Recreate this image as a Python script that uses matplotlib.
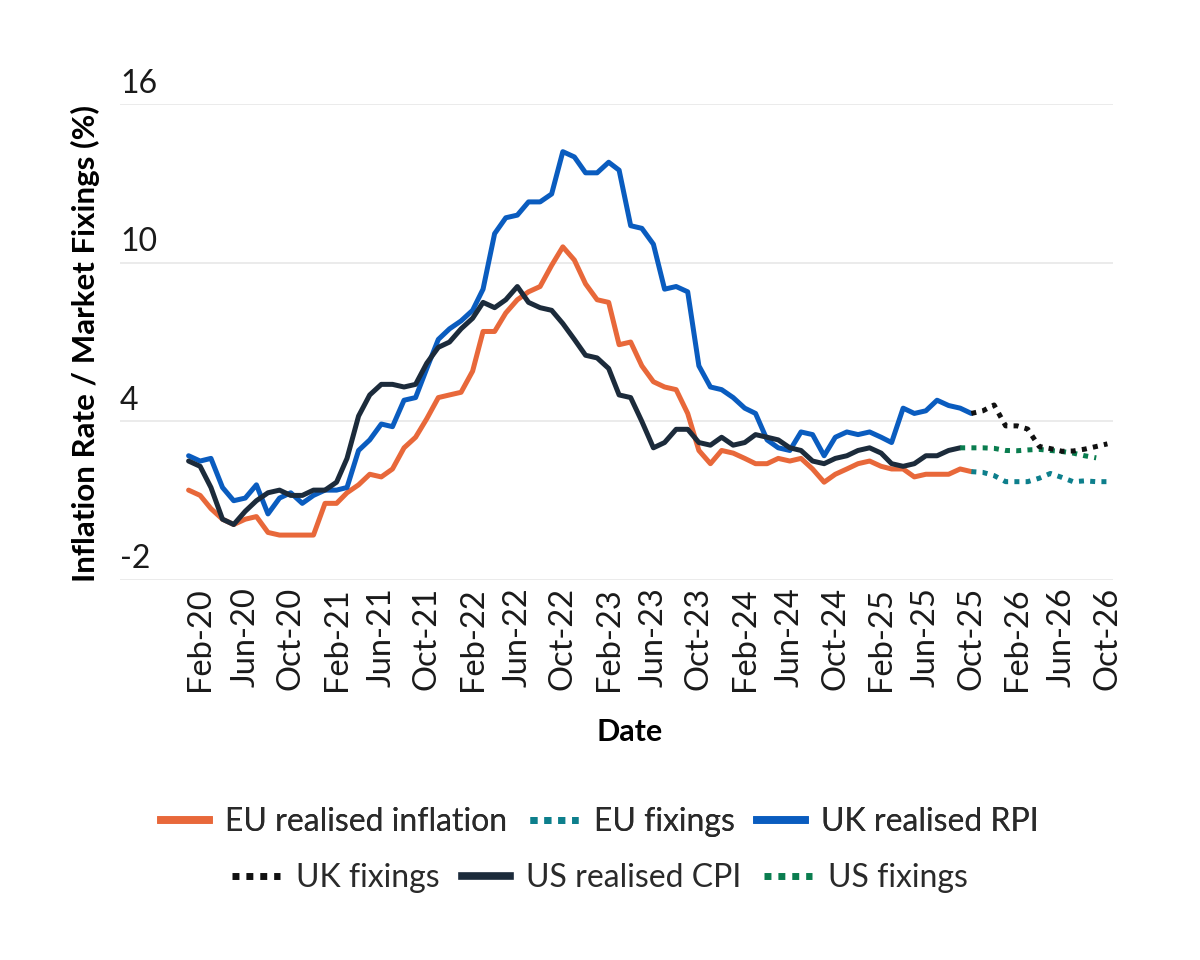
"""Realised inflation vs market fixings for EU, UK and US, monthly, Jan-20 to Oct-26."""
import matplotlib
matplotlib.use("Agg")
import matplotlib.pyplot as plt
import matplotlib.dates as mdates
import matplotlib.transforms as mtransforms
from matplotlib.lines import Line2D
import pandas as pd

# realised series, monthly from Jan-20
eu_realised = [
    1.4, 1.2, 0.7, 0.3, 0.1, 0.3, 0.4, -0.2, -0.3, -0.3, -0.3, -0.3,
    0.9, 0.9, 1.3, 1.6, 2.0, 1.9, 2.2, 3.0, 3.4, 4.1, 4.9, 5.0,
    5.1, 5.9, 7.4, 7.4, 8.1, 8.6, 8.9, 9.1, 9.9, 10.6, 10.1, 9.2,
    8.6, 8.5, 6.9, 7.0, 6.1, 5.5, 5.3, 5.2, 4.3, 2.9, 2.4, 2.9,
    2.8, 2.6, 2.4, 2.4, 2.6, 2.5, 2.6, 2.2, 1.7, 2.0, 2.2, 2.4,
    2.5, 2.3, 2.2, 2.2, 1.9, 2.0, 2.0, 2.0, 2.2, 2.1,
]
uk_rpi = [
    2.7, 2.5, 2.6, 1.5, 1.0, 1.1, 1.6, 0.5, 1.1, 1.3, 0.9, 1.2,
    1.4, 1.4, 1.5, 2.9, 3.3, 3.9, 3.8, 4.8, 4.9, 6.0, 7.1, 7.5,
    7.8, 8.2, 9.0, 11.1, 11.7, 11.8, 12.3, 12.3, 12.6, 14.2, 14.0, 13.4,
    13.4, 13.8, 13.5, 11.4, 11.3, 10.7, 9.0, 9.1, 8.9, 6.1, 5.3, 5.2,
    4.9, 4.5, 4.3, 3.3, 3.0, 2.9, 3.6, 3.5, 2.7, 3.4, 3.6, 3.5,
    3.6, 3.4, 3.2, 4.5, 4.3, 4.4, 4.8, 4.6, 4.5, 4.3,
]
us_cpi = [
    2.5, 2.3, 1.5, 0.3, 0.1, 0.6, 1.0, 1.3, 1.4, 1.2, 1.2, 1.4,
    1.4, 1.7, 2.6, 4.2, 5.0, 5.4, 5.4, 5.3, 5.4, 6.2, 6.8, 7.0,
    7.5, 7.9, 8.5, 8.3, 8.6, 9.1, 8.5, 8.3, 8.2, 7.7, 7.1, 6.5,
    6.4, 6.0, 5.0, 4.9, 4.0, 3.0, 3.2, 3.7, 3.7, 3.2, 3.1, 3.4,
    3.1, 3.2, 3.5, 3.4, 3.3, 3.0, 2.9, 2.5, 2.4, 2.6, 2.7, 2.9,
    3.0, 2.8, 2.4, 2.3, 2.4, 2.7, 2.7, 2.9, 3.0,
]

# market fixings
eu_fix = [2.1, 2.07, 1.95, 1.72, 1.72, 1.72, 1.85, 2.03, 1.88, 1.72, 1.75, 1.72, 1.72]  # Oct-25 ->
uk_fix = [4.3, 4.4, 4.62, 3.83, 3.83, 3.71, 3.05, 2.97, 2.87, 2.88, 2.95, 3.05, 3.15]   # Oct-25 ->
us_fix = [3.0, 3.0, 3.0, 2.98, 2.9, 2.89, 2.92, 2.94, 2.9, 2.86, 2.8, 2.7, 2.62]       # Sep-25 ->

y_ticks = [-2, 4, 10, 16]

C_EU = "#E8683A"
C_EU_FIX = "#0D7F8C"
C_UK = "#0A5CBF"
C_UK_FIX = "#111111"
C_US = "#1C2B3B"
C_US_FIX = "#0A7D4F"

FONT = "Lato"
DOT = (0, (1, 1.25))


def months(start, n):
    return pd.date_range(start, periods=n, freq="MS")


def main():
    fig = plt.figure(figsize=(12, 9.6), dpi=100)
    ax = fig.add_axes([0.1, 0.3958, 0.8275, 0.4958])

    lw = 3.6
    kw = dict(lw=lw, solid_joinstyle="round", solid_capstyle="round")
    ax.plot(months("2020-01-01", len(eu_realised)), eu_realised, color=C_EU, **kw)
    ax.plot(months("2020-01-01", len(uk_rpi)), uk_rpi, color=C_UK, **kw)
    ax.plot(months("2020-01-01", len(us_cpi)), us_cpi, color=C_US, **kw)

    fkw = dict(lw=lw, ls=DOT, dash_capstyle="butt")
    ax.plot(months("2025-09-01", len(us_fix)), us_fix, color=C_US_FIX, **fkw)
    ax.plot(months("2025-10-01", len(eu_fix)), eu_fix, color=C_EU_FIX, **fkw)
    ax.plot(months("2025-10-01", len(uk_fix)), uk_fix, color=C_UK_FIX, **fkw)

    ax.set_xlim(pd.Timestamp("2019-07-01"), pd.Timestamp("2026-10-16"))
    ax.set_ylim(-2, 16)

    # x ticks every 4 months from Feb-20
    xt = pd.date_range("2020-02-01", "2026-10-01", freq="4MS")
    ax.set_xticks(xt)
    ax.xaxis.set_major_formatter(mdates.DateFormatter("%b-%y"))
    ax.tick_params(axis="x", length=0, pad=5, labelrotation=90, labelsize=23.5)
    for lab in ax.get_xticklabels():
        lab.set_fontfamily(FONT)
        lab.set_color("#1a1a1a")

    # y ticks: gridlines, labels sitting on top of them at the left edge
    ax.set_yticks(y_ticks)
    ax.tick_params(axis="y", length=0, labelleft=False)
    ax.grid(axis="y", color="#e8e8e8", lw=1.2)
    ax.set_axisbelow(True)
    trans = mtransforms.blended_transform_factory(ax.transAxes, ax.transData)
    for v in y_ticks:
        ax.text(0.0, v, str(v), transform=trans + mtransforms.ScaledTranslation(0, 4 / 72, fig.dpi_scale_trans),
                ha="left", va="bottom", fontsize=23, fontfamily=FONT, color="#1a1a1a")

    for s in ax.spines.values():
        s.set_visible(False)

    ax.set_ylabel("Inflation Rate / Market Fixings (%)", fontsize=22.5, fontfamily=FONT,
                  fontweight="bold")
    ax.yaxis.set_label_coords(-0.02, 0.497)
    fig.text(0.525, 0.238, "Date", ha="center", va="center", fontsize=22,
             fontfamily=FONT, fontweight="bold")

    def h(color, dotted=False):
        if dotted:
            return Line2D([], [], color=color, lw=5, ls=(0, (1, 1)), dash_capstyle="butt")
        return Line2D([], [], color=color, lw=5.5)

    lkw = dict(frameon=False, ncol=3, handlelength=1.5, handletextpad=0.5, columnspacing=0.7,
               prop={"family": FONT, "size": 23})
    leg1 = fig.legend([h(C_EU), h(C_EU_FIX, True), h(C_UK)],
                      ["EU realised inflation", "EU fixings", "UK realised RPI"],
                      loc="center", bbox_to_anchor=(0.5, 0.144), **lkw)
    fig.add_artist(leg1)
    fig.legend([h(C_UK_FIX, True), h(C_US), h(C_US_FIX, True)],
               ["UK fixings", "US realised CPI", "US fixings"],
               loc="center", bbox_to_anchor=(0.5, 0.085), **lkw)
    for leg in fig.legends:
        for t in leg.get_texts():
            t.set_color("#2a2a2a")

    fig.savefig("out.png", dpi=100, facecolor="white")
    plt.close(fig)


if __name__ == "__main__":
    main()
